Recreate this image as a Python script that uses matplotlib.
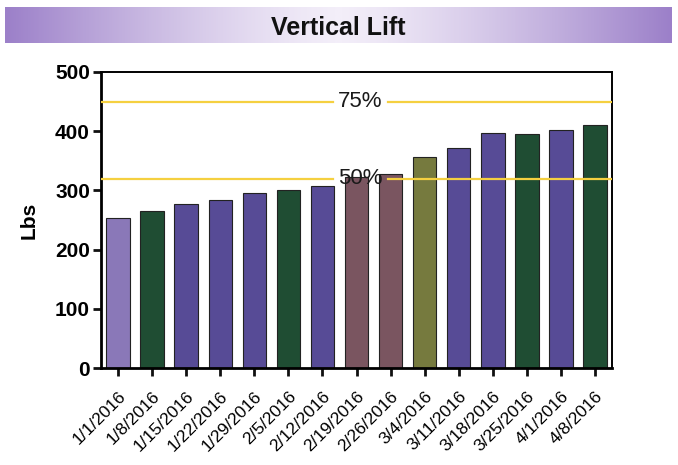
import matplotlib
matplotlib.use("Agg")
import matplotlib.pyplot as plt
import numpy as np

plt.rcParams['font.family'] = ['Liberation Sans', 'DejaVu Sans']

dates = ["1/1/2016", "1/8/2016", "1/15/2016", "1/22/2016", "1/29/2016",
         "2/5/2016", "2/12/2016", "2/19/2016", "2/26/2016", "3/4/2016",
         "3/11/2016", "3/18/2016", "3/25/2016", "4/1/2016", "4/8/2016"]
lift = [253, 265, 277, 283, 296, 301, 308, 323, 328, 357, 371, 397, 396, 402, 411]
bar_colors = ["#8a78b8", "#1f4d33", "#574b96", "#574b96", "#574b96",
              "#1f4d33", "#574b96", "#7a5560", "#7a5560", "#767a3e",
              "#574b96", "#574b96", "#1f4d33", "#574b96", "#1f4d33"]

targets = [450, 320]
target_labels = ["75%", "50%"]

fig = plt.figure(figsize=(6.78, 4.65), dpi=100)

# title banner with purple fade towards the centre
banner = fig.add_axes([0.007, 0.908, 0.983, 0.077])
grad = np.abs(np.linspace(-1, 1, 256)) ** 1.3
banner.imshow(grad[np.newaxis, :], aspect='auto', extent=[0, 1, 0, 1],
              cmap=matplotlib.colors.LinearSegmentedColormap.from_list(
                  "band", ["#f3eef9", "#9c80c9"]))
banner.set_xlim(0, 1)
banner.set_ylim(0, 1)
banner.axis('off')
banner.text(0.5, 0.42, "Vertical Lift", ha='center', va='center',
            fontsize=18, fontweight='bold', color='#111111')

ax = fig.add_axes([0.149, 0.2086, 0.7537, 0.6366])
x = np.arange(len(dates))
ax.bar(x, lift, width=0.69, color=bar_colors, edgecolor='#222222', linewidth=0.8,
       zorder=2)

# target lines, broken where the label sits
gap_lo, gap_hi = 6.31, 7.92
for val, lab in zip(targets, target_labels):
    ax.plot([-0.5, gap_lo], [val, val], color='#f5d040', lw=1.6, zorder=3)
    ax.plot([gap_hi, 14.5], [val, val], color='#f5d040', lw=1.6, zorder=3)
    ax.text((gap_lo + gap_hi) / 2, val, lab, ha='center', va='center',
            fontsize=16, color='#1a1a1a', zorder=4)

ax.set_xlim(-0.5, 14.5)
ax.set_ylim(0, 500)
ax.set_yticks([0, 100, 200, 300, 400, 500])
ax.set_xticks(x)
ax.set_xticklabels(dates, rotation=45, ha='right', rotation_mode='anchor',
                   fontsize=12.5)
for t in ax.get_yticklabels():
    t.set_fontsize(15)
    t.set_fontweight('bold')
ax.tick_params(axis='both', direction='out', length=6, width=2, color='#111111')
ax.tick_params(axis='x', pad=9)
ax.tick_params(axis='y', pad=2)
for s in ax.spines.values():
    s.set_linewidth(1.4)
ax.spines['left'].set_linewidth(2)
ax.spines['bottom'].set_linewidth(2)
ax.set_ylabel("Lbs", fontsize=15, fontweight='bold', labelpad=12)

fig.savefig("out.png", dpi=100)
